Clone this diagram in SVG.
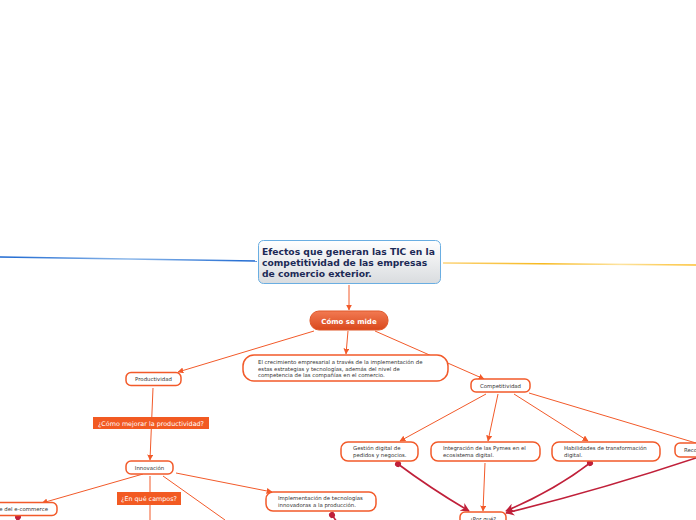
<svg xmlns="http://www.w3.org/2000/svg" width="696" height="520" viewBox="0 0 696 520">
<defs>
<linearGradient id="gMain" x1="0" y1="0" x2="0" y2="1"><stop offset="0" stop-color="#ffffff"/><stop offset="1" stop-color="#d9dcdf"/></linearGradient>
<linearGradient id="gOr" x1="0" y1="0" x2="0" y2="1"><stop offset="0" stop-color="#f27a52"/><stop offset="1" stop-color="#d9481c"/></linearGradient>
<linearGradient id="gBlue" x1="0" y1="0" x2="1" y2="0"><stop offset="0" stop-color="#1a66d0"/><stop offset="0.5" stop-color="#8db8ea"/><stop offset="1" stop-color="#1a66d0"/></linearGradient>
<linearGradient id="gYel" x1="0" y1="0" x2="1" y2="0"><stop offset="0" stop-color="#fcd47a"/><stop offset="0.4" stop-color="#f7b81c"/><stop offset="0.7" stop-color="#fde3a0"/><stop offset="1" stop-color="#fcc030"/></linearGradient>
<marker id="ao" viewBox="0 0 10 10" refX="9" refY="5" markerWidth="6" markerHeight="6" orient="auto" markerUnits="userSpaceOnUse"><path d="M0,0 L10,5 L0,10 z" fill="#f25a2a"/></marker>
<marker id="ar" viewBox="0 0 10 10" refX="9" refY="5" markerWidth="9" markerHeight="9" orient="auto" markerUnits="userSpaceOnUse"><path d="M0,0 L10,5 L0,10 L3,5 z" fill="#c0203a"/></marker>
<marker id="dr" viewBox="0 0 10 10" refX="5" refY="5" markerWidth="6" markerHeight="6" orient="auto" markerUnits="userSpaceOnUse"><circle cx="5" cy="5" r="5" fill="#c0203a"/></marker>
</defs>
<style>
.c{fill:none;stroke:#f25a2a;stroke-width:1}
.r{fill:none;stroke:#c0203a;stroke-width:1.6}
.n{fill:#fff;stroke:#f25a2a;stroke-width:1.5}
.t{font-family:"DejaVu Sans",Verdana,sans-serif;font-size:5.4px;fill:#333}
.lb{fill:#f25a22}
.lt{font-family:"DejaVu Sans",Verdana,sans-serif;font-size:6.4px;fill:#fff}
</style>
<rect width="696" height="520" fill="#fff"/>
<g id="connectors">
<line x1="0" y1="257" x2="257" y2="261" stroke="url(#gBlue)" stroke-width="1.3"/>
<line x1="443" y1="263" x2="696" y2="265" stroke="url(#gYel)" stroke-width="1.6"/>
<line class="c" x1="349" y1="285" x2="349" y2="310" marker-end="url(#ao)"/>
<line class="c" x1="314" y1="331" x2="178" y2="372" marker-end="url(#ao)"/>
<line class="c" x1="348" y1="331" x2="346" y2="354" marker-end="url(#ao)"/>
<line class="c" x1="375" y1="331" x2="484" y2="379" marker-end="url(#ao)"/>
<line class="c" x1="153" y1="388" x2="150" y2="460" marker-end="url(#ao)"/>
<line class="c" x1="143" y1="474" x2="42" y2="503" marker-end="url(#ao)"/>
<line class="c" x1="150" y1="476" x2="150" y2="520"/>
<line class="c" x1="163" y1="476" x2="225" y2="520"/>
<line class="c" x1="176" y1="473" x2="272" y2="492" marker-end="url(#ao)"/>
<line class="c" x1="486" y1="394" x2="400" y2="441" marker-end="url(#ao)"/>
<line class="c" x1="498" y1="394" x2="488" y2="441" marker-end="url(#ao)"/>
<line class="c" x1="514" y1="394" x2="588" y2="441" marker-end="url(#ao)"/>
<line class="c" x1="529" y1="393" x2="696" y2="443"/>
<line class="c" x1="485" y1="463" x2="483" y2="511" marker-end="url(#ao)"/>
<path class="r" d="M398,464 Q430,488 469,511" marker-start="url(#dr)" marker-end="url(#ar)"/>
<path class="r" d="M590,463 Q555,490 506,511" marker-start="url(#dr)" marker-end="url(#ar)"/>
<path class="r" d="M696,458 Q600,490 506,513" marker-end="url(#ar)"/>
<path class="r" d="M18,517 L16,522" marker-start="url(#dr)"/>
<path class="r" d="M332,515 L337,522" marker-start="url(#dr)"/>
</g>
<g id="main">
<rect x="258.5" y="240.5" width="182" height="43" rx="5" fill="url(#gMain)" stroke="#6aaee2" stroke-width="1"/>
<text font-family="'DejaVu Sans',Verdana,sans-serif" font-size="9.2" font-weight="bold" fill="#1c2a56"><tspan x="262" y="255">Efectos que generan las TIC en la</tspan><tspan x="262" y="266">competitividad de las empresas</tspan><tspan x="262" y="277">de comercio exterior.</tspan></text>
</g>
<g id="como">
<rect x="310" y="311" width="78" height="19" rx="9" fill="url(#gOr)" stroke="#e0582a" stroke-width="1"/>
<text x="349" y="323.5" text-anchor="middle" font-family="'DejaVu Sans',Verdana,sans-serif" font-size="7" font-weight="bold" fill="#fff">Cómo se mide</text>
</g>
<g id="productividad">
<rect class="n" x="126" y="372.5" width="55" height="13" rx="5"/>
<text class="t" x="153.5" y="381" text-anchor="middle">Productividad</text>
</g>
<g id="descripcion">
<rect class="n" x="243" y="355" width="205" height="26" rx="11"/>
<text class="t"><tspan x="258" y="364">El crecimiento empresarial a través de la implementación de</tspan><tspan x="258" y="370.5">estas estrategias y tecnologías, además del nivel de</tspan><tspan x="258" y="377">competencia de las compañías en el comercio.</tspan></text>
</g>
<g id="competitividad">
<rect class="n" x="471" y="379" width="59" height="13" rx="5"/>
<text class="t" x="500.5" y="387.5" text-anchor="middle">Competitividad</text>
</g>
<g id="label-mejorar">
<rect class="lb" x="93" y="417" width="116" height="12"/>
<text class="lt" x="151" y="425.5" text-anchor="middle">¿Cómo mejorar la productividad?</text>
</g>
<g id="innovacion">
<rect class="n" x="126" y="461" width="47" height="13" rx="5"/>
<text class="t" x="149.5" y="469.5" text-anchor="middle">Innovación</text>
</g>
<g id="ecommerce">
<rect class="n" x="-20" y="502.5" width="77" height="13" rx="5"/>
<text class="t" x="48" y="511" text-anchor="end">e del e-commerce</text>
</g>
<g id="label-campos">
<rect class="lb" x="117" y="492" width="64" height="13"/>
<text class="lt" x="149" y="501" text-anchor="middle">¿En qué campos?</text>
</g>
<g id="implementacion">
<rect class="n" x="266" y="492" width="110" height="19" rx="7"/>
<text class="t"><tspan x="278" y="500">Implementación de tecnologías</tspan><tspan x="278" y="507">innovadoras a la producción.</tspan></text>
</g>
<g id="gestion">
<rect class="n" x="341" y="442" width="77" height="19" rx="7"/>
<text class="t"><tspan x="353" y="450">Gestión digital de</tspan><tspan x="353" y="457">pedidos y negocios.</tspan></text>
</g>
<g id="integracion">
<rect class="n" x="431" y="442" width="109" height="19" rx="7"/>
<text class="t"><tspan x="443" y="450">Integración de las Pymes en el</tspan><tspan x="443" y="457">ecosistema digital.</tspan></text>
</g>
<g id="habilidades">
<rect class="n" x="552" y="442" width="108" height="19" rx="7"/>
<text class="t"><tspan x="564" y="450">Habilidades de transformación</tspan><tspan x="564" y="457">digital.</tspan></text>
</g>
<g id="reco">
<rect class="n" x="675" y="443" width="40" height="14" rx="5"/>
<text class="t" x="684" y="452">Reco</text>
</g>
<g id="porque">
<rect class="n" x="460" y="512" width="46" height="14" rx="5"/>
<text class="t" x="470" y="520.5">¿Por qué?</text>
</g>
</svg>
